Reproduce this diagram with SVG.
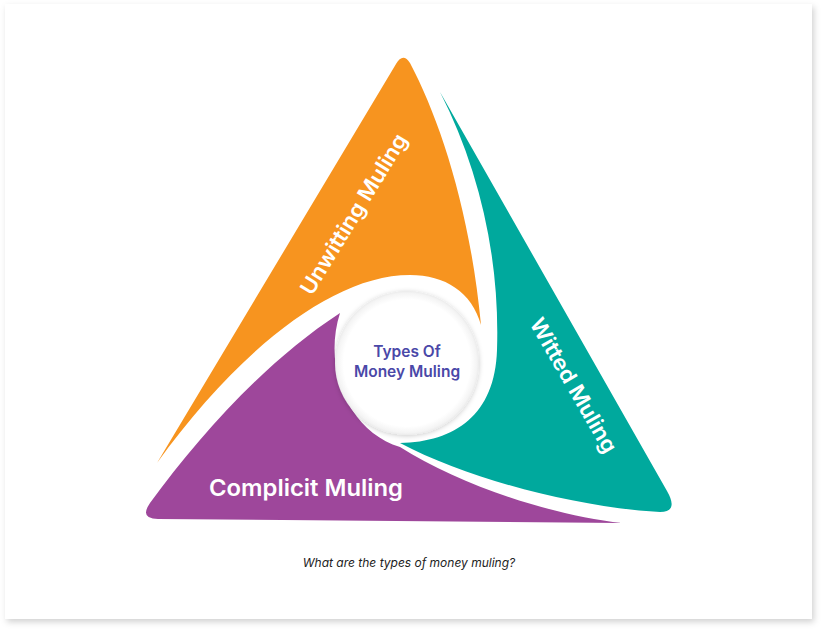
<svg xmlns="http://www.w3.org/2000/svg" width="826" height="633" viewBox="0 0 826 633">
  <defs>
    <filter id="cardShadow" x="-5%" y="-5%" width="110%" height="110%">
      <feDropShadow dx="2" dy="3" stdDeviation="3" flood-color="#000" flood-opacity="0.18"/>
    </filter>
    <filter id="hubShadow" x="-20%" y="-20%" width="140%" height="140%">
      <feDropShadow dx="0" dy="1" stdDeviation="2.5" flood-color="#000" flood-opacity="0.2"/>
    </filter>
    <radialGradient id="hubFill" cx="0.5" cy="0.5" r="0.5">
      <stop offset="0.88" stop-color="#ffffff"/>
      <stop offset="0.97" stop-color="#f4f4f4"/>
      <stop offset="1" stop-color="#ebebeb"/>
    </radialGradient>
    <style>
      .seg-label { font-family: Inter, "Noto Sans", "Liberation Sans", sans-serif; font-weight: 600; font-size: 21.5px; fill: #ffffff; text-anchor: middle; }
      .hub-label { font-family: Inter, "Noto Sans", "Liberation Sans", sans-serif; font-weight: 600; font-size: 15.5px; fill: #4a48a8; text-anchor: middle; }
      .caption { font-family: Inter, "Liberation Sans", sans-serif; font-style: italic; font-size: 12px; fill: #222222; text-anchor: middle; }
    </style>
  </defs>

  <rect x="0" y="0" width="826" height="633" fill="#ffffff"/>
  <rect id="card" x="5" y="4" width="807" height="615" fill="#ffffff" filter="url(#cardShadow)"/>

  <g id="unwitting">
    <path d="M157,463 L396,64 Q403,52 410,63 C440,120 470,210 481,325 C472,292 445,275 410,275 C330,275 235,355 157,463 Z" fill="#f7941f"/>
    <text class="seg-label" transform="translate(360,218) rotate(-58.5)" textLength="184" lengthAdjust="spacingAndGlyphs">Unwitting Muling</text>
  </g>

  <g id="witted">
    <path d="M440,92 L667,491 Q679,512 660,512 C580,508 470,480 400,443 C455,442 495,415 497,350 C500,260 480,170 440,92 Z" fill="#00a99d"/>
    <text class="seg-label" transform="translate(567,389) rotate(60)" textLength="152" lengthAdjust="spacingAndGlyphs">Witted Muling</text>
  </g>

  <g id="complicit">
    <path d="M340,313 C265,362 200,435 150,503 Q139,519 158,519 L622,523 C550,515 460,485 400,447 C350,432 322,370 340,313 Z" fill="#9e479b"/>
    <text class="seg-label" x="306" y="496" style="font-size:23px" textLength="194" lengthAdjust="spacingAndGlyphs">Complicit Muling</text>
  </g>

  <g id="hub">
    <circle cx="407" cy="363" r="72" fill="url(#hubFill)" filter="url(#hubShadow)"/>
    <text class="hub-label" x="407" y="357">Types Of</text>
    <text class="hub-label" x="407" y="377">Money Muling</text>
  </g>

  <g id="connectors"/>

  <text id="caption" class="caption" x="409" y="567">What are the types of money muling?</text>
</svg>
